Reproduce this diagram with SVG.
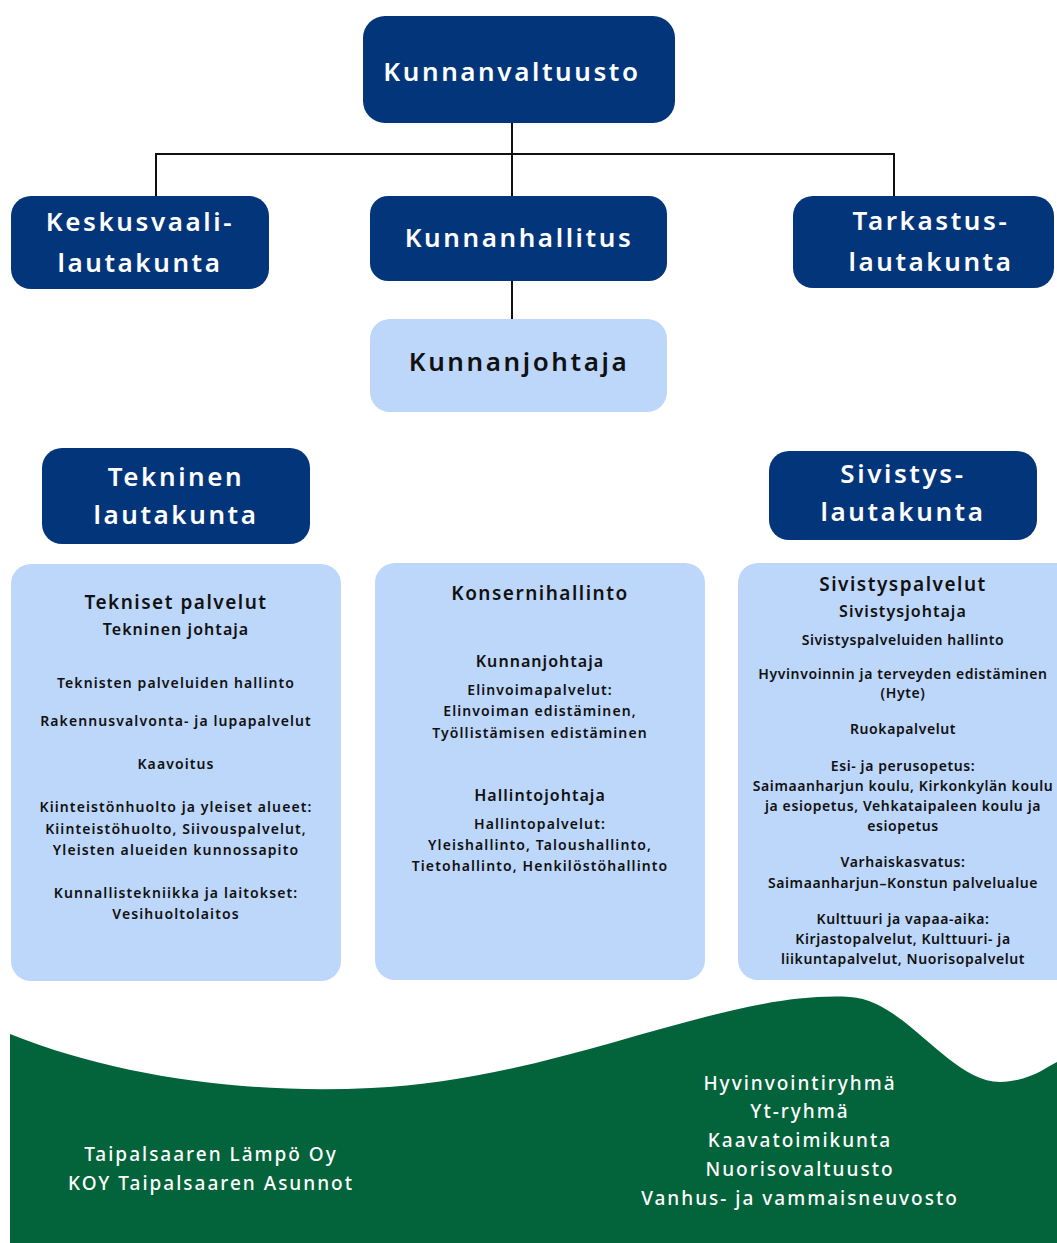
<svg xmlns="http://www.w3.org/2000/svg" width="1057" height="1243" viewBox="0 0 1057 1243">
<style>
.dark{fill:#03357a}
.light{fill:#bdd7fb}
.wt{fill:#ffffff;font-family:"Noto Sans","Liberation Sans",sans-serif;font-weight:600;text-anchor:middle}
.bt{fill:#111111;font-family:"Noto Sans","Liberation Sans",sans-serif;font-weight:600;text-anchor:middle}
.big{font-size:26px;letter-spacing:2.6px}
.h1{font-size:19px;letter-spacing:1.5px}
.h2{font-size:16px;letter-spacing:1.05px}
.s{font-size:14px;letter-spacing:1.1px}
.rs{font-size:14px;letter-spacing:0.6px}
.g{fill:#ffffff;font-family:"Noto Sans","Liberation Sans",sans-serif;font-weight:500;text-anchor:middle;font-size:19px;letter-spacing:2px}
.conn{stroke:#111111;stroke-width:2;fill:none}
</style>
<rect width="1057" height="1243" fill="#ffffff"/>
<g id="connectors">
<path class="conn" d="M512,123 V196 M156,154 H894 M156,153 V196 M894,153 V196 M512,281 V319"/>
</g>
<g id="kunnanvaltuusto">
<rect class="dark" x="363" y="16" width="312" height="107" rx="22"/>
<text class="wt big" x="512" y="81">Kunnanvaltuusto</text>
</g>
<g id="keskusvaalilautakunta">
<rect class="dark" x="11" y="196" width="258" height="93" rx="20"/>
<text class="wt big" x="140" y="231">Keskusvaali-</text>
<text class="wt big" x="140" y="272">lautakunta</text>
</g>
<g id="kunnanhallitus">
<rect class="dark" x="370" y="196" width="297" height="85" rx="18"/>
<text class="wt big" x="519" y="247">Kunnanhallitus</text>
</g>
<g id="tarkastuslautakunta">
<rect class="dark" x="793" y="196" width="261" height="92" rx="20"/>
<text class="wt big" x="931" y="230">Tarkastus-</text>
<text class="wt big" x="931" y="271">lautakunta</text>
</g>
<g id="kunnanjohtaja">
<rect class="light" x="370" y="319" width="297" height="93" rx="20"/>
<text class="bt big" x="519" y="371">Kunnanjohtaja</text>
</g>
<g id="tekninenlautakunta">
<rect class="dark" x="42" y="448" width="268" height="96" rx="20"/>
<text class="wt big" x="176" y="486">Tekninen</text>
<text class="wt big" x="176" y="524">lautakunta</text>
</g>
<g id="sivistyslautakunta">
<rect class="dark" x="769" y="451" width="268" height="89" rx="20"/>
<text class="wt big" x="903" y="483">Sivistys-</text>
<text class="wt big" x="903" y="521">lautakunta</text>
</g>
<g id="teknisetpalvelut">
<rect class="light" x="11" y="564" width="330" height="417" rx="20"/>
<text class="bt h1" x="176" y="609">Tekniset palvelut</text>
<text class="bt h2" x="176" y="635">Tekninen johtaja</text>
<text class="bt s" x="176" y="688">Teknisten palveluiden hallinto</text>
<text class="bt s" x="176" y="726">Rakennusvalvonta- ja lupapalvelut</text>
<text class="bt s" x="176" y="769">Kaavoitus</text>
<text class="bt s" x="176" y="812">Kiinteistönhuolto ja yleiset alueet:</text>
<text class="bt s" x="176" y="834">Kiinteistöhuolto, Siivouspalvelut,</text>
<text class="bt s" x="176" y="855">Yleisten alueiden kunnossapito</text>
<text class="bt s" x="176" y="898">Kunnallistekniikka ja laitokset:</text>
<text class="bt s" x="176" y="919">Vesihuoltolaitos</text>
</g>
<g id="konsernihallinto">
<rect class="light" x="375" y="563" width="330" height="417" rx="20"/>
<text class="bt h1" x="540" y="600">Konsernihallinto</text>
<text class="bt h2" x="540" y="667">Kunnanjohtaja</text>
<text class="bt s" x="540" y="695">Elinvoimapalvelut:</text>
<text class="bt s" x="540" y="716">Elinvoiman edistäminen,</text>
<text class="bt s" x="540" y="738">Työllistämisen edistäminen</text>
<text class="bt h2" x="540" y="801">Hallintojohtaja</text>
<text class="bt s" x="540" y="829">Hallintopalvelut:</text>
<text class="bt s" x="540" y="850">Yleishallinto, Taloushallinto,</text>
<text class="bt s" x="540" y="871">Tietohallinto, Henkilöstöhallinto</text>
</g>
<g id="sivistyspalvelut">
<rect class="light" x="738" y="563" width="340" height="417" rx="20"/>
<text class="bt h1" x="903" y="591">Sivistyspalvelut</text>
<text class="bt h2" x="903" y="617">Sivistysjohtaja</text>
<text class="bt rs" x="903" y="645">Sivistyspalveluiden hallinto</text>
<text class="bt rs" x="903" y="679">Hyvinvoinnin ja terveyden edistäminen</text>
<text class="bt rs" x="903" y="698">(Hyte)</text>
<text class="bt rs" x="903" y="734">Ruokapalvelut</text>
<text class="bt rs" x="903" y="771">Esi- ja perusopetus:</text>
<text class="bt rs" x="903" y="791">Saimaanharjun koulu, Kirkonkylän koulu</text>
<text class="bt rs" x="903" y="811">ja esiopetus, Vehkataipaleen koulu ja</text>
<text class="bt rs" x="903" y="831">esiopetus</text>
<text class="bt rs" x="903" y="867">Varhaiskasvatus:</text>
<text class="bt rs" x="903" y="888">Saimaanharjun–Konstun palvelualue</text>
<text class="bt rs" x="903" y="924">Kulttuuri ja vapaa-aika:</text>
<text class="bt rs" x="903" y="944">Kirjastopalvelut, Kulttuuri- ja</text>
<text class="bt rs" x="903" y="964">liikuntapalvelut, Nuorisopalvelut</text>
</g>
<g id="muut">
<path fill="#03633a" d="M10,1034 C120,1078 250,1094 371,1088 C560,1080 720,990 850,997 C905,1000 950,1082 1000,1082 C1030,1081 1045,1068 1057,1062 L1057,1243 L10,1243 Z"/>
<text class="g" x="211" y="1161">Taipalsaaren Lämpö Oy</text>
<text class="g" x="211" y="1190">KOY Taipalsaaren Asunnot</text>
<text class="g" x="800" y="1090">Hyvinvointiryhmä</text>
<text class="g" x="800" y="1118">Yt-ryhmä</text>
<text class="g" x="800" y="1147">Kaavatoimikunta</text>
<text class="g" x="800" y="1176">Nuorisovaltuusto</text>
<text class="g" x="800" y="1205">Vanhus- ja vammaisneuvosto</text>
</g>
</svg>
